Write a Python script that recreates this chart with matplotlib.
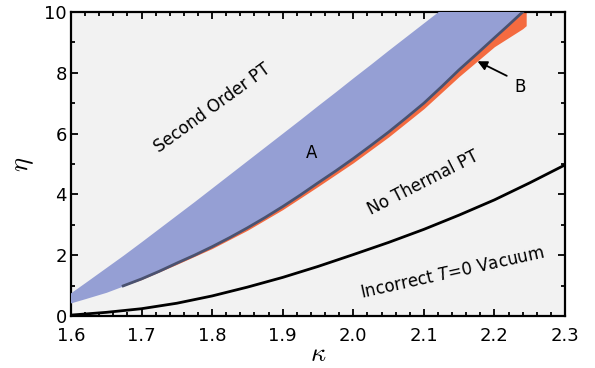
import matplotlib
matplotlib.use("Agg")
import matplotlib.pyplot as plt
from matplotlib.ticker import MultipleLocator
import numpy as np

# Blue region (region A)
kappa_blue = [1.595, 1.62, 1.65, 1.674, 1.70, 1.725, 1.75, 1.775, 1.80, 1.825, 1.85, 1.875, 1.90, 1.925,
              1.95, 1.975, 2.00, 2.025, 2.05, 2.075, 2.10, 2.125, 2.15, 2.175, 2.20, 2.22, 2.24]
blue_upper = [0.69, 1.10, 1.60, 2.0, 2.45, 2.89, 3.33, 3.77, 4.22, 4.67, 5.12, 5.57, 6.02, 6.47,
              6.93, 7.38, 7.84, 8.29, 8.75, 9.20, 9.65, 10.1, 10.55, 11.0, 11.45, 11.8, 12.2]
blue_lower = [0.40, 0.57, 0.78, 0.99, 1.22, 1.47, 1.74, 2.00, 2.28, 2.58, 2.90, 3.24, 3.60, 3.98,
              4.38, 4.77, 5.18, 5.61, 6.05, 6.52, 7.00, 7.54, 8.10, 8.62, 9.15, 9.57, 10.0]

# Boundary line (dark) and orange band (region B)
kappa_line = [1.674, 1.70, 1.725, 1.75, 1.775, 1.80, 1.825, 1.85, 1.875, 1.90, 1.925, 1.95, 1.975,
              2.00, 2.025, 2.05, 2.075, 2.10, 2.125, 2.15, 2.175, 2.20, 2.22, 2.24]
eta_line = [0.99, 1.22, 1.47, 1.74, 2.00, 2.28, 2.58, 2.90, 3.24, 3.60, 3.98, 4.38, 4.77,
            5.18, 5.61, 6.05, 6.52, 7.00, 7.54, 8.10, 8.62, 9.15, 9.57, 10.0]

kappa_orange = [1.674, 1.70, 1.75, 1.80, 1.85, 1.90, 1.95, 2.00, 2.05, 2.10, 2.15, 2.20, 2.24, 2.245]
orange_upper = [0.99, 1.22, 1.74, 2.28, 2.90, 3.60, 4.38, 5.18, 6.05, 7.00, 8.10, 9.15, 10.0, 10.2]
orange_lower = [0.99, 1.20, 1.70, 2.22, 2.82, 3.50, 4.26, 5.04, 5.89, 6.82, 7.88, 8.86, 9.45, 9.55]

# Incorrect T=0 vacuum boundary (black)
kappa_black = [1.60, 1.65, 1.70, 1.75, 1.80, 1.85, 1.90, 1.95, 2.00, 2.05, 2.10, 2.15, 2.20, 2.25, 2.30]
eta_black = [0.03, 0.12, 0.24, 0.42, 0.66, 0.95, 1.27, 1.63, 2.02, 2.42, 2.85, 3.32, 3.82, 4.38, 4.97]

fig = plt.figure(figsize=(5.95, 3.68), dpi=100)
ax = fig.add_axes([71/595, 52/368, 494/595, 304/368])
ax.set_facecolor("#f2f2f2")

ax.fill_between(kappa_orange, orange_lower, orange_upper, color="#f46b40", lw=0, zorder=2)
ax.fill_between(kappa_blue, blue_lower, blue_upper, color="#959fd4", lw=0, zorder=3)
ax.plot(kappa_line, eta_line, color="#4a5270", lw=2.0, zorder=4, solid_joinstyle="round")
ax.plot(kappa_black, eta_black, color="black", lw=2.0, zorder=4, solid_joinstyle="round")

ax.set_xlim(1.6, 2.3)
ax.set_ylim(0, 10)
ax.xaxis.set_minor_locator(MultipleLocator(0.02))
ax.yaxis.set_major_locator(MultipleLocator(2))
ax.yaxis.set_minor_locator(MultipleLocator(1))
ax.set_xticks(np.round(np.arange(1.6, 2.31, 0.1), 1))
ax.set_xticklabels([f"{v:.1f}" for v in np.arange(1.6, 2.31, 0.1)])
ax.tick_params(which="both", direction="in", top=True, right=True, width=1.3, labelsize=13)
ax.tick_params(which="major", length=5)
ax.tick_params(which="minor", length=3)
ax.tick_params(axis="x", pad=8)
ax.tick_params(axis="y", pad=3)
for s in ax.spines.values():
    s.set_linewidth(1.6)

ax.set_xlabel(r"$\kappa$", fontsize=19, labelpad=-3, math_fontfamily="cm")
ax.set_ylabel(r"$\eta$", fontsize=19, labelpad=6, math_fontfamily="cm")

fs = 12
ax.text(1.80, 6.84, "Second Order PT", rotation=36, rotation_mode="anchor",
        ha="center", va="center", fontsize=fs, zorder=5)
ax.text(1.941, 5.36, "A", ha="center", va="center", fontsize=fs, zorder=5)
ax.text(2.099, 4.375, "No Thermal PT", rotation=27, rotation_mode="anchor",
        ha="center", va="center", fontsize=fs, zorder=5)
ax.text(2.141, 1.41, r"Incorrect $T$=0 Vacuum", rotation=12.5, rotation_mode="anchor",
        ha="center", va="center", fontsize=fs, zorder=5)
ax.text(2.236, 7.53, "B", ha="center", va="center", fontsize=fs, zorder=5)
ax.annotate("", xy=(2.1725, 8.42), xytext=(2.221, 7.86),
            arrowprops=dict(arrowstyle="-|>", color="black", lw=1.3, mutation_scale=14),
            zorder=6)

fig.savefig("out.png", dpi=100)
